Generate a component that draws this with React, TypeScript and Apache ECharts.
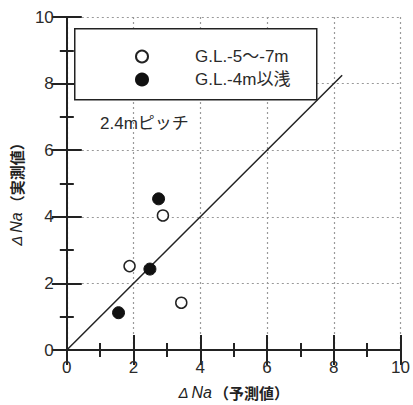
import React, { useEffect, useRef } from "react";
import * as echarts from "echarts";

// ΔNa predicted (x) vs measured (y)
const deepSeries = "G.L.-5～-7m";
const shallowSeries = "G.L.-4m以浅";
const deepPoints: [number, number][] = [
  [1.88, 2.52],
  [2.88, 4.04],
  [3.43, 1.42],
];
const shallowPoints: [number, number][] = [
  [1.55, 1.12],
  [2.49, 2.43],
  [2.75, 4.54],
];
// 1:1 reference line
const equalityLine: [number, number][] = [
  [0, 0],
  [8.25, 8.25],
];
const axisMin = 0;
const axisMax = 10;
const axisStep = 2;
const noteText = "2.4mピッチ";

const jp = '"Noto Sans CJK JP", "Liberation Sans", sans-serif';
const mixed = '"Liberation Sans", "Noto Sans CJK JP", sans-serif';
const latin = '"Liberation Sans", Arial, sans-serif';

const titleRich = {
  d: { fontFamily: latin, fontSize: 15, color: "#222", fontStyle: "italic" as const },
  i: { fontFamily: latin, fontSize: 16, color: "#222", fontStyle: "italic" as const, padding: [0, 2, 0, 3] },
  n: { fontFamily: jp, fontSize: 15, color: "#222", fontWeight: "bold" as const },
};

function baseAxis(extra: any) {
  return {
    type: "value",
    min: axisMin,
    max: axisMax,
    interval: axisStep,
    axisLine: { show: true, lineStyle: { color: "#222", width: 2 } },
    axisTick: { show: true, inside: true, length: 15, lineStyle: { color: "#222", width: 2 } },
    minorTick: { show: true, splitNumber: 2, length: 7, lineStyle: { color: "#222", width: 2 } },
    splitLine: { show: false },
    ...extra,
  };
}

export default function App() {
  const ref = useRef<HTMLDivElement>(null);
  useEffect(() => {
    if (!ref.current) return;
    const chart = echarts.init(ref.current, undefined, { renderer: "svg" });
    chart.setOption({
      animation: false,
      backgroundColor: "#fff",
      grid: { left: 66, top: 17, width: 338, height: 335 },
      xAxis: [
        baseAxis({
          position: "bottom",
          axisLabel: { color: "#2a2a2a", fontSize: 17, fontFamily: latin, margin: 9 },
          splitLine: { show: true, lineStyle: { color: "#999", type: [2, 3], width: 1.2 } },
          name: "{d|Δ}{i|Na}{n|（予測値）}",
          nameLocation: "middle",
          nameGap: 34,
          nameTextStyle: { rich: titleRich },
        }),
        baseAxis({ position: "top", axisLabel: { show: false } }),
      ],
      yAxis: [
        baseAxis({
          position: "left",
          axisLabel: { color: "#2a2a2a", fontSize: 17, fontFamily: latin, margin: 13 },
          splitLine: { show: true, lineStyle: { color: "#999", type: [2, 3], width: 1.2 } },
          name: "{d|Δ}{i|Na}{n|（実測値）}",
          nameLocation: "middle",
          nameGap: 36,
          nameTextStyle: { rich: titleRich, padding: [0, 14, 0, 0] },
        }),
        baseAxis({ position: "right", axisLabel: { show: false } }),
      ],
      legend: {
        orient: "vertical",
        left: 135,
        top: 48,
        padding: 0,
        itemWidth: 12,
        itemHeight: 12,
        itemGap: 6,
        z: 60,
        data: [
          { name: deepSeries, icon: "circle" },
          { name: shallowSeries, icon: "circle" },
        ],
        textStyle: {
          fontFamily: mixed,
          fontSize: 17,
          color: "#2a2a2a",
          padding: [0, 0, 0, 42],
        },
      },
      graphic: [
        {
          type: "rect",
          left: 74,
          top: 28,
          shape: { width: 242, height: 71 },
          style: { fill: "#fff", stroke: "#222", lineWidth: 1.5 },
          z: 50,
        },
        {
          type: "text",
          left: 100,
          top: 115,
          style: { text: noteText, fontFamily: mixed, fontSize: 17, fill: "#2a2a2a" },
          z: 50,
        },
      ],
      series: [
        {
          type: "line",
          data: equalityLine,
          symbol: "none",
          lineStyle: { color: "#222", width: 1.5 },
          z: 3,
        },
        {
          name: deepSeries,
          type: "scatter",
          data: deepPoints,
          symbol: "circle",
          symbolSize: 11,
          itemStyle: { color: "#fff", borderColor: "#222", borderWidth: 1.5, opacity: 1 },
          z: 4,
        },
        {
          name: shallowSeries,
          type: "scatter",
          data: shallowPoints,
          symbol: "circle",
          symbolSize: 12,
          itemStyle: { color: "#111", borderColor: "#111", borderWidth: 1, opacity: 1 },
          z: 4,
        },
      ],
    });
    return () => chart.dispose();
  }, []);
  return <div ref={ref} style={{ width: 413, height: 405, position: "absolute", left: 0, top: 0 }} />;
}
